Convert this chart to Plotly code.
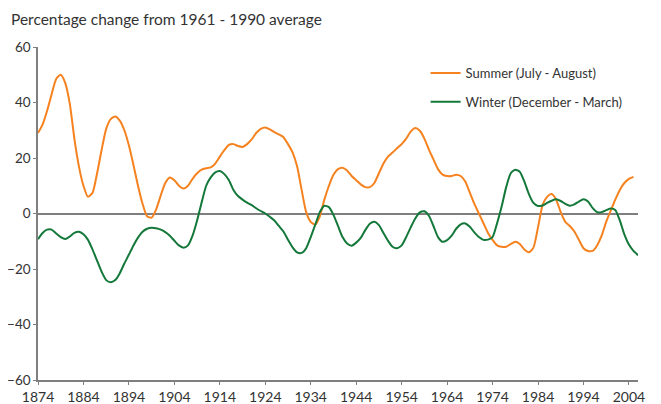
import plotly.graph_objects as go

years_summer = list(range(1874, 2006))
summer = [
    29, 32, 37, 43, 48.5, 50, 47, 39.5, 27, 17,
    10, 6, 7.5, 14.5, 23, 30.5, 34, 35, 33.5, 30,
    24.5, 17.5, 10, 3.5, -1, -1.5, 1.5, 6.5, 11, 13,
    12, 10, 9, 10, 12.5, 14.5, 15.8, 16.3, 16.6, 18,
    20.5, 22.8, 24.7, 25, 24.3, 24, 25, 26.7, 29, 30.5,
    31, 30.3, 29.3, 28.5, 27.5, 25, 22, 17, 8.5, 0.5,
    -3, -4, -1, 5, 10, 14, 16, 16.5, 15.5, 13.5,
    12, 10.5, 9.5, 9.5, 11, 14.5, 18, 20.5, 22, 23.5,
    25, 27, 29.5, 30.8, 29.8, 27, 23, 19.5, 16, 14,
    13.5, 13.5, 14, 13.5, 11.5, 7.5, 3.5, 0, -3.5, -7,
    -9.5, -11.5, -12, -12, -11, -10.2, -11, -13, -14, -12.3,
    -5, 3, 6, 7, 5, 0.5, -3, -4.5, -6.5, -9.5,
    -12.5, -13.5, -13.5, -11.5, -8, -3, 1, 5, 8.5, 11,
    12.5, 13.2,
]

years_winter = list(range(1874, 2007))
winter = [
    -9.3, -7, -5.8, -5.8, -7.2, -8.5, -9.2, -8.3, -7, -6.6,
    -7.5, -9.5, -13, -17, -21, -24, -24.8, -24, -21.5, -18,
    -14.8, -11.5, -8.7, -6.6, -5.5, -5.1, -5.3, -5.8, -6.7, -8,
    -9.8, -11.5, -12.3, -11.5, -8, -2.5, 4, 10, 13, 14.8,
    15.3, 14.2, 12, 8.5, 6.3, 5, 3.9, 3, 1.9, 0.9,
    0, -1.2, -2.5, -4.5, -6.5, -9.5, -12.2, -14, -14.2, -12.5,
    -8.5, -4, 0.5, 2.8, 2.3, -0.5, -4.5, -8.5, -10.8, -11.6,
    -10.5, -8.8, -6, -3.7, -3, -4.2, -7, -9.8, -12, -12.5,
    -11.5, -8.5, -5, -1.8, 0.4, 0.8, -0.8, -4.5, -8.5, -10.2,
    -9.6, -8, -5.5, -3.9, -3.6, -4.8, -6.8, -8.5, -9.5, -9.4,
    -8.5, -3.5, 2.5, 9.5, 14.5, 15.8, 15, 11.5, 7, 3.8,
    2.7, 2.9, 3.8, 4.6, 5.1, 4.5, 3.5, 2.8, 3.3, 4.3,
    5.1, 4.3, 2, 0.5, 0.5, 1.2, 1.8, 1.3, -2.5, -7.5,
    -11.2, -13.5, -15,
]

x_ticks = list(range(1874, 2005, 10))
y_ticks = [-60, -40, -20, 0, 20, 40, 60]

title_text = "Percentage change from 1961 - 1990 average"
summer_name = "Summer (July - August)"
winter_name = "Winter (December - March)"

ORANGE = "#F5821F"
GREEN = "#13783A"
AXIS = "#7F7F7F"
TEXT = "#333333"
FONT = "Lato, 'Open Sans', sans-serif"

fig = go.Figure()
fig.add_trace(go.Scatter(
    x=years_summer, y=summer, mode="lines", name=summer_name,
    line=dict(color=ORANGE, width=2, shape="spline", smoothing=0.6),
    legendgroup="s",
))
fig.add_trace(go.Scatter(
    x=years_winter, y=winter, mode="lines", name=winter_name,
    line=dict(color=GREEN, width=2, shape="spline", smoothing=0.6),
    legendgroup="w",
))

# page body has an 8px margin, so the figure is sized to fill the rest
fig.update_layout(
    width=653, height=396,
    margin=dict(l=30, r=23, t=39, b=24),
    paper_bgcolor="white", plot_bgcolor="white",
    font=dict(family=FONT, size=14, color=TEXT),
    showlegend=True,
    legend=dict(
        x=0.646, y=0.967, xanchor="left", yanchor="top",
        font=dict(size=13, color=TEXT), bgcolor="rgba(0,0,0,0)",
        tracegroupgap=9, itemwidth=30,
    ),
    annotations=[dict(
        text=title_text, xref="paper", yref="paper",
        x=-0.048, y=1.051, xanchor="left", yanchor="bottom",
        showarrow=False, font=dict(size=15.5, color=TEXT),
    )],
)

fig.update_xaxes(
    range=[1874, 2006], tickmode="array", tickvals=x_ticks,
    ticktext=[str(v) for v in x_ticks],
    showgrid=False, zeroline=False, automargin=False,
    showline=True, linecolor=AXIS, linewidth=1.5,
    ticks="outside", ticklen=3, tickcolor=AXIS, tickwidth=1,
    tickfont=dict(size=14, color=TEXT),
)
fig.update_yaxes(
    range=[-60, 60], tickmode="array", tickvals=y_ticks,
    showgrid=False, zeroline=True, zerolinecolor=AXIS, zerolinewidth=1.5,
    automargin=False,
    showline=True, linecolor=AXIS, linewidth=1.5,
    ticks="outside", ticklen=3, tickcolor=AXIS, tickwidth=1,
    tickfont=dict(size=13.5, color=TEXT),
)

fig.write_html("out.html")
